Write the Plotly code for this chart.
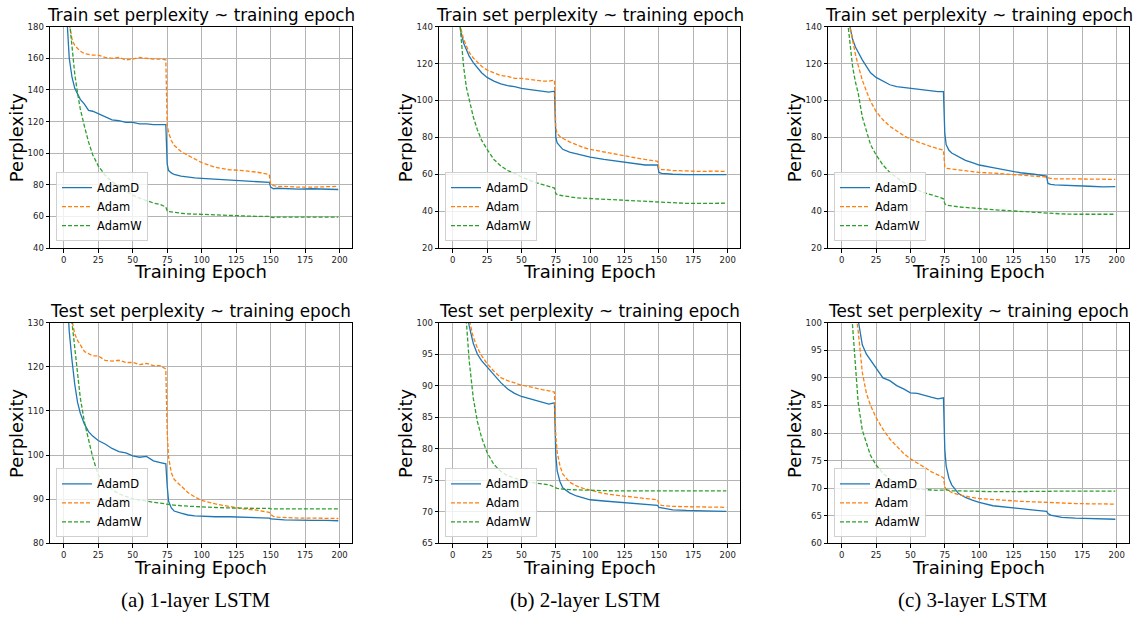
import plotly.graph_objects as go

# ---------------- data ----------------
EPOCHS = [0, 2, 4, 6, 8, 10, 12, 15, 18, 21, 25, 30, 35, 40, 45, 50, 55, 60, 65, 70,
          74, 75, 76, 78, 80, 85, 90, 95, 100, 110, 120, 130, 140, 149, 150, 152, 155,
          160, 170, 180, 190, 199]

SERIES_NAMES = ["AdamD", "Adam", "AdamW"]

# 1-layer LSTM, train set
L1_TRAIN_ADAMD = [260, 190, 160, 148, 141, 137, 134, 131, 127, 126.5, 125, 123, 121, 120.5, 119.5, 119.5,
                  118.5, 118.5, 118, 118, 118, 93, 89, 87.5, 86.5, 85.5, 84.8, 84.3, 84, 83.5, 83, 82.5,
                  82, 81.5, 78.5, 77.5, 77.8, 77.5, 77.2, 77.5, 77.3, 77]
L1_TRAIN_ADAM = [280, 210, 182, 172, 168, 166, 164.5, 163, 162.5, 162, 162, 160.5, 160, 160.5, 159, 159.5,
                 160.5, 160, 159.5, 159.5, 159, 118, 113, 108, 105, 101, 98.5, 96, 94, 91, 89.5, 89, 88,
                 86.5, 80, 79.5, 79, 79, 78.5, 78.5, 79, 79]
L1_TRAIN_ADAMW = [300, 220, 185, 165, 150, 138, 128, 117, 107, 99, 92, 86, 82, 79, 76, 73.5, 71.5, 70,
                  68.5, 67.5, 66, 63.5, 63, 62.8, 62.5, 62, 61.6, 61.3, 61.3, 61, 60.5, 60.3, 60, 60,
                  59.5, 59.3, 59.5, 59.5, 59.3, 59.2, 59.5, 59.5]

# 2-layer LSTM, train set
L2_TRAIN_ADAMD = [220, 170, 147, 137, 131, 127.5, 124, 120.5, 117.5, 115, 112.5, 110.5, 109, 108, 107.5,
                  106.5, 106, 105.5, 105, 104.5, 105, 80, 77, 75, 73.5, 72, 71, 70.3, 69.3, 68, 67, 66,
                  65, 65, 61, 60.5, 60.3, 60, 59.8, 59.7, 59.8, 59.8]
L2_TRAIN_ADAM = [220, 172, 150, 139, 133, 129, 126, 123, 120.5, 118.5, 116.5, 115, 113.5, 113, 112, 112,
                 111.5, 111, 110.5, 110.5, 111, 85, 82, 80.5, 79.5, 77.5, 76, 74.5, 73.5, 72, 70.5, 69.3,
                 68, 67, 63, 62.5, 62.5, 62, 61.8, 61.5, 61.7, 61.5]
L2_TRAIN_ADAMW = [260, 190, 155, 135, 118, 107, 100, 91, 84, 78.5, 73.5, 68, 64.5, 62, 60.5, 58.5, 57,
                  55.5, 54.5, 53.5, 52.5, 49.5, 49, 48.6, 48.3, 47.6, 47.2, 47, 46.8, 46.4, 46, 45.4,
                  45, 45, 44.8, 44.6, 44.5, 44.3, 44.2, 44.2, 44.3, 44.3]

# 3-layer LSTM, train set
L3_TRAIN_ADAMD = [220, 180, 155, 140, 133, 129, 126, 122, 118.5, 115, 112.5, 110.5, 108.5, 107.5, 107,
                  106.5, 106, 105.8, 105, 104.8, 104.8, 82, 76, 73, 71.5, 69.5, 67.5, 66.3, 65, 63.6,
                  62.2, 60.8, 60, 59, 55, 54.5, 54.2, 54, 53.8, 53.5, 53.2, 53.3]
L3_TRAIN_ADAM = [230, 185, 158, 140, 132, 125, 119, 111, 105, 99.5, 94, 89.5, 86, 83.5, 81, 79, 77.5,
                 76.3, 75, 74, 73, 64, 63.2, 63, 62.8, 62.3, 61.8, 61.3, 61, 60.6, 60.2, 59.6, 59, 58.5,
                 58, 57.8, 57.5, 57.5, 57.6, 57.4, 57.3, 57.2]
L3_TRAIN_ADAMW = [240, 180, 145, 130, 118, 110, 104, 91, 83, 76, 70.5, 65, 61, 58, 55.5, 53.5, 51.5, 50,
                  49, 47.8, 46.7, 44, 43.3, 43, 42.8, 42.3, 42, 41.6, 41.3, 40.8, 40.3, 39.8, 39.3, 39,
                  38.8, 38.6, 38.6, 38.5, 38.3, 38.2, 38.2, 38.3]

# 1-layer LSTM, test set
L1_TEST_ADAMD = [150, 138, 128, 121.5, 116, 112, 109.5, 107, 105.3, 104.3, 103.3, 102.5, 101.5, 100.8,
                 100.5, 99.8, 99.5, 99.7, 98.7, 98.3, 98, 93, 89.5, 88, 87.3, 86.8, 86.4, 86.2, 86.1, 86,
                 86, 85.9, 85.8, 85.7, 85.5, 85.4, 85.4, 85.3, 85.2, 85.2, 85.2, 85.1]
L1_TEST_ADAM = [160, 148, 137, 130.5, 127.5, 126, 125, 123.5, 123, 122.5, 122.5, 121.5, 121.3, 121.5, 121,
                121, 120.5, 120.8, 120.3, 120.3, 119.5, 105, 99.5, 96, 94.5, 93, 91.5, 90.5, 89.7, 88.9,
                88.3, 87.8, 87.5, 87, 86.5, 86.1, 85.9, 85.8, 85.7, 85.7, 85.6, 85.6]
L1_TEST_ADAMW = [170, 155, 140, 130, 124, 119, 113, 107.5, 103.5, 99.5, 95.5, 93.5, 92.2, 91.2, 90.6,
                 90.1, 89.8, 89.5, 89.3, 89.1, 89, 88.9, 88.8, 88.7, 88.6, 88.5, 88.4, 88.3, 88.2, 88.1,
                 88, 87.9, 87.9, 87.9, 87.8, 87.8, 87.8, 87.8, 87.8, 87.8, 87.8, 87.8]

# 2-layer LSTM, test set
L2_TEST_ADAMD = [140, 130, 120, 113, 107, 102.5, 99.5, 96.7, 95, 94, 93, 91.6, 90.5, 89.5, 88.8, 88.3, 88,
                 87.7, 87.4, 87.1, 87.3, 79, 76.5, 74.8, 73.8, 73, 72.5, 72.2, 71.9, 71.7, 71.5, 71.3,
                 71.2, 71, 70.7, 70.6, 70.5, 70.3, 70.2, 70.1, 70.1, 70.05]
L2_TEST_ADAM = [145, 133, 123, 115, 109, 104, 100.5, 97.7, 96, 94.8, 93.5, 92.3, 91.3, 90.8, 90.4, 90.1,
                89.9, 89.6, 89.4, 89.2, 89, 82, 79.5, 77.3, 76, 74.7, 74.1, 73.7, 73.4, 72.9, 72.6, 72.3,
                72.1, 71.9, 71.2, 71, 70.9, 70.85, 70.8, 70.75, 70.7, 70.7]
L2_TEST_ADAMW = [150, 135, 122, 113, 106, 100.5, 94, 88, 84.3, 81.8, 79.4, 77.5, 76.4, 75.7, 75.3, 75,
                 74.7, 74.5, 74.4, 74.3, 74, 73.8, 73.7, 73.6, 73.6, 73.5, 73.45, 73.4, 73.4, 73.35, 73.3,
                 73.3, 73.3, 73.3, 73.3, 73.3, 73.3, 73.3, 73.3, 73.3, 73.3, 73.3]

# 3-layer LSTM, test set
L3_TEST_ADAMD = [130, 122, 115, 109, 105, 102, 100.5, 96, 94.3, 93.2, 91.8, 90, 89.5, 88.6, 88, 87.3, 87.2,
                 86.8, 86.5, 86.2, 86.4, 77, 74, 71.8, 70.6, 69, 68.3, 67.8, 67.4, 66.8, 66.5, 66.2, 66,
                 65.8, 65.4, 65.1, 64.9, 64.7, 64.55, 64.45, 64.4, 64.35]
L3_TEST_ADAM = [140, 127, 118, 111, 105.5, 102.5, 98.5, 91, 87.2, 85, 82.8, 80.7, 78.9, 77.5, 76.3, 75.3,
                74.6, 73.8, 73, 72.4, 71.9, 70.2, 69.8, 69.5, 69.2, 68.8, 68.5, 68.3, 68.1, 67.9, 67.7,
                67.6, 67.5, 67.4, 67.35, 67.3, 67.3, 67.25, 67.2, 67.15, 67.1, 67.1]
L3_TEST_ADAMW = [140, 125, 113, 106, 99, 92, 85.5, 80.5, 78, 75.9, 74.2, 72.7, 71.6, 70.9, 70.4, 70, 69.8,
                 69.7, 69.6, 69.6, 69.65, 69.7, 69.7, 69.6, 69.5, 69.5, 69.45, 69.4, 69.4, 69.35, 69.35,
                 69.4, 69.45, 69.45, 69.45, 69.45, 69.45, 69.45, 69.45, 69.45, 69.45, 69.45]

TITLES = ["Train set perplexity ~ training epoch", "Test set perplexity ~ training epoch"]
CAPTIONS = ["(a) 1-layer LSTM", "(b) 2-layer LSTM", "(c) 3-layer LSTM"]
X_TICKS = [0, 25, 50, 75, 100, 125, 150, 175, 200]
Y_RANGES = [[(40, 180), (20, 140), (20, 140)], [(80, 130), (65, 100), (60, 100)]]
Y_DTICKS = [[20, 20, 20], [10, 5, 5]]

PANELS = [
    [[L1_TRAIN_ADAMD, L1_TRAIN_ADAM, L1_TRAIN_ADAMW],
     [L2_TRAIN_ADAMD, L2_TRAIN_ADAM, L2_TRAIN_ADAMW],
     [L3_TRAIN_ADAMD, L3_TRAIN_ADAM, L3_TRAIN_ADAMW]],
    [[L1_TEST_ADAMD, L1_TEST_ADAM, L1_TEST_ADAMW],
     [L2_TEST_ADAMD, L2_TEST_ADAM, L2_TEST_ADAMW],
     [L3_TEST_ADAMD, L3_TEST_ADAM, L3_TEST_ADAMW]],
]

# ---------------- styling / layout ----------------
W, H = 1136, 622
COLORS = ["#1f77b4", "#ff7f0e", "#2ca02c"]
DASHES = ["solid", "4px,2px", "4px,2px"]
FONT = "DejaVu Sans"
COL_X = [(50, 352), (439, 740), (828, 1129)]
ROW_Y = [(22, 247), (323, 547)]
YLAB_X = [16, 405, 794]
XLAB_Y = [271, 572]
LEG_X = [56, 445, 834]
LEG_BOTTOM = [240, 541]
CAP_X = [196, 585, 973]
CAP_Y = 605


def fx(p):
    return p / W


def fy(p):
    return 1 - p / H


fig = go.Figure()
layout = dict(
    width=W, height=H,
    margin=dict(l=0, r=0, t=0, b=0),
    paper_bgcolor="white", plot_bgcolor="white",
    font=dict(family=FONT, color="black"),
    annotations=[],
)

for r in range(2):
    for c in range(3):
        idx = r * 3 + c + 1
        xa = "x" if idx == 1 else f"x{idx}"
        ya = "y" if idx == 1 else f"y{idx}"
        leg = "legend" if idx == 1 else f"legend{idx}"
        for s in range(3):
            fig.add_trace(go.Scatter(
                x=EPOCHS, y=PANELS[r][c][s], mode="lines", name=SERIES_NAMES[s],
                line=dict(color=COLORS[s], width=1.3, dash=DASHES[s]),
                xaxis=xa, yaxis=ya, legend=leg, cliponaxis=True,
            ))
        x0, x1 = COL_X[c]
        y0, y1 = ROW_Y[r]
        axis_common = dict(
            showline=True, linecolor="black", linewidth=1, mirror=True,
            ticks="outside", ticklen=3.5, tickwidth=1, tickcolor="black",
            showgrid=True, gridcolor="#b4b4b4", gridwidth=1, zeroline=False,
            tickfont=dict(family=FONT, size=8.5, color="#222222"),
        )
        layout["xaxis" if idx == 1 else f"xaxis{idx}"] = dict(
            axis_common, domain=[fx(x0), fx(x1)], anchor=ya, range=[-9.95, 208.95],
            tickmode="array", tickvals=X_TICKS,
        )
        ylo, yhi = Y_RANGES[r][c]
        layout["yaxis" if idx == 1 else f"yaxis{idx}"] = dict(
            axis_common, domain=[fy(y1), fy(y0)], anchor=xa, range=[ylo, yhi],
            tick0=ylo, dtick=Y_DTICKS[r][c],
        )
        layout[leg] = dict(
            x=fx(LEG_X[c]), y=fy(LEG_BOTTOM[r]), xanchor="left", yanchor="bottom",
            xref="paper", yref="paper",
            bgcolor="rgba(255,255,255,0.8)", bordercolor="#d0d0d0", borderwidth=1,
            font=dict(family=FONT, size=11.5, color="black"), itemwidth=30,
            tracegroupgap=0,
        )
        # panel title
        layout["annotations"].append(dict(
            text=TITLES[r], x=fx((x0 + x1) / 2), y=fy(y0), xref="paper", yref="paper",
            xanchor="center", yanchor="bottom", showarrow=False,
            font=dict(family=FONT, size=16.8, color="black"),
        ))
        # y label
        layout["annotations"].append(dict(
            text="Perplexity", x=fx(YLAB_X[c]), y=fy((y0 + y1) / 2), xref="paper", yref="paper",
            xanchor="center", yanchor="middle", textangle=-90, showarrow=False,
            font=dict(family=FONT, size=18, color="black"),
        ))
        # x label
        layout["annotations"].append(dict(
            text="Training Epoch", x=fx((x0 + x1) / 2), y=fy(XLAB_Y[r]), xref="paper", yref="paper",
            xanchor="center", yanchor="middle", showarrow=False,
            font=dict(family=FONT, size=18, color="black"),
        ))

for c in range(3):
    layout["annotations"].append(dict(
        text=CAPTIONS[c], x=fx(CAP_X[c]), y=fy(CAP_Y), xref="paper", yref="paper",
        xanchor="center", yanchor="middle", showarrow=False,
        font=dict(family="Liberation Serif", size=21, color="black"),
    ))

fig.update_layout(**layout)
# remove the browser's default 8px body margin so the figure starts at the window corner
fig.write_html(
    "out.html",
    config={"displayModeBar": False, "staticPlot": True},
    post_script="document.body.style.margin='0px';",
)
